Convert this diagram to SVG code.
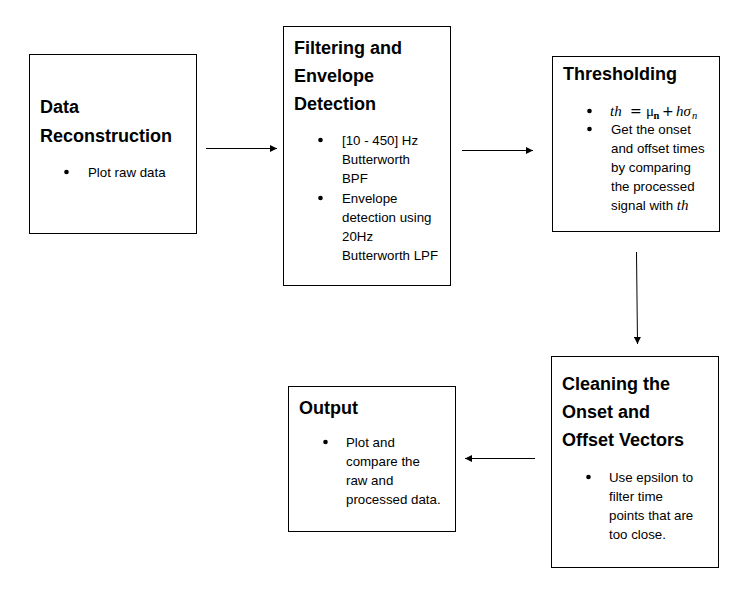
<svg xmlns="http://www.w3.org/2000/svg" width="753" height="600" viewBox="0 0 753 600">
<defs>
<marker id="ah" viewBox="0 0 10 10" refX="10" refY="5" markerWidth="7" markerHeight="7" markerUnits="userSpaceOnUse" orient="auto"><path d="M0,0 L10,5 L0,10 z" fill="#000"/></marker>
<style>
.box{fill:#fff;stroke:#000;stroke-width:1}
.t{font-family:"Liberation Sans",Arial,sans-serif;font-size:18px;font-weight:bold;fill:#000}
.b{font-family:"Liberation Sans",Arial,sans-serif;font-size:13.3px;fill:#000}
.m{font-family:"Liberation Serif","Times New Roman",serif;font-size:15px;fill:#000}
.op{font-family:"DejaVu Sans",sans-serif;font-size:14px}
.i{font-style:italic}
.c{stroke:#000;stroke-width:1;fill:none;marker-end:url(#ah)}
</style>
</defs>
<rect width="753" height="600" fill="#fff"/>
<g id="n1">
<rect class="box" x="29.5" y="54.5" width="167" height="179"/>
<text class="t" x="40" y="113">Data</text>
<text class="t" x="40" y="142">Reconstruction</text>
<circle cx="66.5" cy="172" r="2.3"/>
<text class="b" x="88" y="177">Plot raw data</text>
</g>
<g id="n2">
<rect class="box" x="283.5" y="26.5" width="167" height="259"/>
<text class="t" x="294" y="54">Filtering and</text>
<text class="t" x="294" y="82">Envelope</text>
<text class="t" x="294" y="110">Detection</text>
<circle cx="320.5" cy="140" r="2.3"/>
<text class="b" x="342" y="145">[10 - 450] Hz</text>
<text class="b" x="342" y="164">Butterworth</text>
<text class="b" x="342" y="183">BPF</text>
<circle cx="320.5" cy="198" r="2.3"/>
<text class="b" x="342" y="203">Envelope</text>
<text class="b" x="342" y="222">detection using</text>
<text class="b" x="342" y="241">20Hz</text>
<text class="b" x="342" y="260">Butterworth LPF</text>
</g>
<g id="n3">
<rect class="box" x="552.5" y="56.5" width="167" height="175"/>
<text class="t" x="563" y="80">Thresholding</text>
<circle cx="589.5" cy="111" r="2.3"/>
<text class="m" y="116"><tspan class="i" x="610">th</tspan><tspan class="op" x="630">=</tspan><tspan x="646">μ</tspan><tspan x="653.5" y="119" font-size="10.5" font-weight="bold">n</tspan><tspan class="op" x="662" y="116">+</tspan><tspan class="i" x="676">hσ</tspan><tspan class="i" x="692" y="119" font-size="10.5">n</tspan></text>
<circle cx="589.5" cy="129" r="2.3"/>
<text class="b" x="611" y="134">Get the onset</text>
<text class="b" x="611" y="153">and offset times</text>
<text class="b" x="611" y="172">by comparing</text>
<text class="b" x="611" y="191">the processed</text>
<text class="b" x="611" y="210">signal with <tspan class="m i">th</tspan></text>
</g>
<g id="n4">
<rect class="box" x="551.5" y="356.5" width="167" height="211"/>
<text class="t" x="562" y="390">Cleaning the</text>
<text class="t" x="562" y="418">Onset and</text>
<text class="t" x="562" y="446">Offset Vectors</text>
<circle cx="588.5" cy="477" r="2.3"/>
<text class="b" x="609" y="482">Use epsilon to</text>
<text class="b" x="609" y="501">filter time</text>
<text class="b" x="609" y="520">points that are</text>
<text class="b" x="609" y="539">too close.</text>
</g>
<g id="n5">
<rect class="box" x="288.5" y="386.5" width="167" height="145"/>
<text class="t" x="299" y="414">Output</text>
<circle cx="325.5" cy="442" r="2.3"/>
<text class="b" x="346" y="447">Plot and</text>
<text class="b" x="346" y="466">compare the</text>
<text class="b" x="346" y="485">raw and</text>
<text class="b" x="346" y="504">processed data.</text>
</g>
<g id="connectors">
<line class="c" x1="206" y1="148.5" x2="277" y2="148.5"/>
<line class="c" x1="462" y1="150.5" x2="533" y2="150.5"/>
<line class="c" x1="636.5" y1="252" x2="637.5" y2="344"/>
<line class="c" x1="535" y1="458.5" x2="465" y2="458.5"/>
</g>
</svg>
